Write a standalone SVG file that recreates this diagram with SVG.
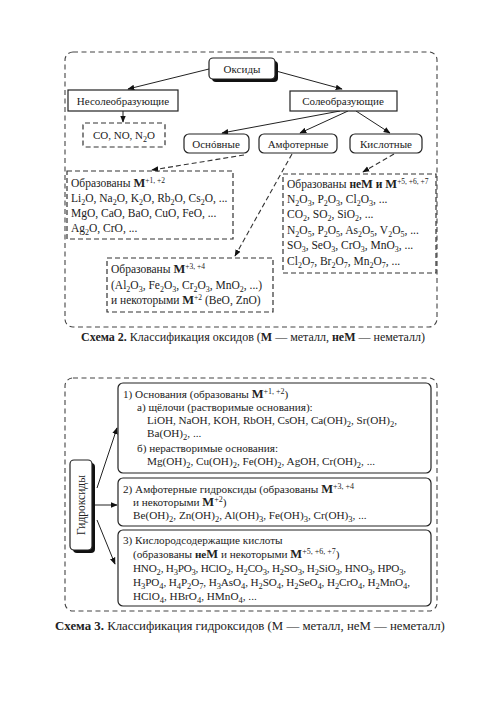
<svg xmlns="http://www.w3.org/2000/svg" width="500" height="708" viewBox="0 0 500 708">
<defs>
<style>
text{font-family:"Liberation Serif","DejaVu Serif",serif;font-size:11px;fill:#222}
.c{text-anchor:middle}
.l1{font-size:11.5px}
.l3{font-size:11.2px}
.cap{font-size:12px}
.cap3{font-size:12.8px}
.bold{font-weight:bold}
.d{font-size:8px;baseline-shift:-2.5px}
.u{font-size:7.5px;baseline-shift:4px}
.l3 .d{font-size:8.5px}
.l3 .u{font-size:8px}
.m{font-weight:bold;font-size:12.5px}
.box{fill:#fff;stroke:#222;stroke-width:1.2}
.shadow{fill:#111}
.dash{fill:none;stroke:#333;stroke-width:1.2;stroke-dasharray:5 3}
.outer{fill:none;stroke:#444;stroke-width:1.1;stroke-dasharray:5 3.5}
.ln{stroke:#222;stroke-width:1;fill:none;marker-end:url(#ah)}
.dl{stroke:#333;stroke-width:1.1;fill:none;stroke-dasharray:5 3;marker-end:url(#ah)}
</style>
<marker id="ah" viewBox="0 0 10 10" refX="9" refY="5" markerWidth="7" markerHeight="7" markerUnits="userSpaceOnUse" orient="auto">
<path d="M0,1 L10,5 L0,9 z" fill="#111"/>
</marker>
</defs>
<rect width="500" height="708" fill="#fff"/>

<!-- Scheme 2 -->
<rect class="outer" x="65" y="52" width="372" height="275" rx="8"/>

<g id="connectors1">
<line class="ln" x1="209" y1="69" x2="128" y2="89"/>
<line class="ln" x1="276" y1="71" x2="342" y2="89"/>
<line class="ln" x1="123" y1="111" x2="123" y2="122"/>
<line class="ln" x1="340" y1="111" x2="222" y2="133"/>
<line class="ln" x1="348" y1="111" x2="300" y2="133"/>
<line class="ln" x1="356" y1="111" x2="390" y2="133"/>
<line class="dl" x1="244" y1="155" x2="152" y2="170"/>
<line class="dl" x1="292" y1="154" x2="235" y2="256"/>
<line class="dl" x1="394" y1="154" x2="363" y2="172"/>
</g>

<g id="oxides">
<rect class="shadow" x="212" y="61" width="66" height="21" rx="4"/>
<rect class="box" x="209" y="58" width="66" height="21" rx="4"/>
<text class="c" x="242" y="73">Оксиды</text>
</g>
<g id="nonsalt">
<rect class="box" x="68" y="90" width="110" height="21"/>
<text class="c" x="123" y="105">Несолеобразующие</text>
</g>
<g id="salt">
<rect class="box" x="290" y="91" width="107" height="20"/>
<text class="c" x="343" y="105">Солеобразующие</text>
</g>
<g id="co">
<rect class="dash" x="83" y="123" width="82" height="24" rx="2"/>
<text class="c" x="124" y="139">CO, NO, N<tspan class="d">2</tspan>O</text>
</g>
<g id="basic">
<rect class="box" x="184" y="134" width="65" height="19" rx="5"/>
<text class="c" x="216" y="148">Оснóвные</text>
</g>
<g id="amph">
<rect class="box" x="259" y="134" width="78" height="19" rx="5"/>
<text class="c" x="298" y="148">Амфотерные</text>
</g>
<g id="acid">
<rect class="box" x="350" y="134" width="72" height="19" rx="5"/>
<text class="c" x="386" y="148">Кислотные</text>
</g>
<g id="basic-list">
<rect class="dash" x="67" y="171" width="166" height="68"/>
<text class="l1" x="71" y="187">Образованы <tspan class="m">M</tspan><tspan class="u">+1, +2</tspan></text>
<text class="l1" x="71" y="202">Li<tspan class="d">2</tspan>O, Na<tspan class="d">2</tspan>O, K<tspan class="d">2</tspan>O, Rb<tspan class="d">2</tspan>O, Cs<tspan class="d">2</tspan>O, ...</text>
<text class="l1" x="71" y="217">MgO, CaO, BaO, CuO, FeO, ...</text>
<text class="l1" x="71" y="232">Ag<tspan class="d">2</tspan>O, CrO, ...</text>
</g>
<g id="acid-list">
<rect class="dash" x="283" y="174" width="153" height="99"/>
<text class="l1" x="287" y="188">Образованы <tspan class="bold">не</tspan><tspan class="m">M</tspan><tspan class="bold"> и </tspan><tspan class="m">M</tspan><tspan class="u">+5, +6, +7</tspan></text>
<text class="l1" x="287" y="203">N<tspan class="d">2</tspan>O<tspan class="d">3</tspan>, P<tspan class="d">2</tspan>O<tspan class="d">3</tspan>, Cl<tspan class="d">2</tspan>O<tspan class="d">3</tspan>, ...</text>
<text class="l1" x="287" y="218">CO<tspan class="d">2</tspan>, SO<tspan class="d">2</tspan>, SiO<tspan class="d">2</tspan>, ...</text>
<text class="l1" x="287" y="234">N<tspan class="d">2</tspan>O<tspan class="d">5</tspan>, P<tspan class="d">2</tspan>O<tspan class="d">5</tspan>, As<tspan class="d">2</tspan>O<tspan class="d">5</tspan>, V<tspan class="d">2</tspan>O<tspan class="d">5</tspan>, ...</text>
<text class="l1" x="287" y="249">SO<tspan class="d">3</tspan>, SeO<tspan class="d">3</tspan>, CrO<tspan class="d">3</tspan>, MnO<tspan class="d">3</tspan>, ...</text>
<text class="l1" x="287" y="265">Cl<tspan class="d">2</tspan>O<tspan class="d">7</tspan>, Br<tspan class="d">2</tspan>O<tspan class="d">7</tspan>, Mn<tspan class="d">2</tspan>O<tspan class="d">7</tspan>, ...</text>
</g>
<g id="amph-list">
<rect class="dash" x="107" y="258" width="166" height="54"/>
<text class="l1" x="111" y="273">Образованы <tspan class="m">M</tspan><tspan class="u">+3, +4</tspan></text>
<text class="l1" x="111" y="289">(Al<tspan class="d">2</tspan>O<tspan class="d">3</tspan>, Fe<tspan class="d">2</tspan>O<tspan class="d">3</tspan>, Cr<tspan class="d">2</tspan>O<tspan class="d">3</tspan>, MnO<tspan class="d">2</tspan>, ...)</text>
<text class="l1" x="111" y="304">и некоторыми <tspan class="m">M</tspan><tspan class="u">+2</tspan> (BeO, ZnO)</text>
</g>
<text class="c cap" x="253" y="341"><tspan class="bold">Схема 2.</tspan> Классификация оксидов (<tspan class="bold">М</tspan> — металл, <tspan class="bold">неМ</tspan> — неметалл)</text>

<!-- Scheme 3 -->
<rect class="outer" x="65" y="378" width="372" height="233" rx="8"/>

<g id="connectors2">
<line class="ln" x1="97" y1="488" x2="117" y2="428"/>
<line class="ln" x1="94" y1="505" x2="117" y2="505"/>
<line class="ln" x1="97" y1="520" x2="115" y2="564"/>
</g>

<g id="hydroxides">
<rect class="shadow" x="73" y="463" width="22" height="90" rx="4"/>
<rect class="box" x="70" y="460" width="22" height="90" rx="4"/>
<text class="c" x="0" y="0" transform="translate(85,505) rotate(-90)" style="font-size:11.5px">Гидроксиды</text>
</g>
<g id="bases">
<rect class="box" x="118" y="383" width="313" height="90" rx="5"/>
<text class="l3" x="123" y="398">1) Основания (образованы <tspan class="m">M</tspan><tspan class="u">+1, +2</tspan>)</text>
<text class="l3" x="137" y="411">а) щёлочи (растворимые основания):</text>
<text class="l3" x="147" y="424" textLength="250" lengthAdjust="spacing">LiOH, NaOH, KOH, RbOH, CsOH, Ca(OH)<tspan class="d">2</tspan>, Sr(OH)<tspan class="d">2</tspan>,</text>
<text class="l3" x="147" y="437">Ba(OH)<tspan class="d">2</tspan>, ...</text>
<text class="l3" x="137" y="452">б) нерастворимые основания:</text>
<text class="l3" x="147" y="465">Mg(OH)<tspan class="d">2</tspan>, Cu(OH)<tspan class="d">2</tspan>, Fe(OH)<tspan class="d">2</tspan>, AgOH, Cr(OH)<tspan class="d">2</tspan>, ...</text>
</g>
<g id="amph-hydr">
<rect class="box" x="118" y="478" width="313" height="48" rx="5"/>
<text class="l3" x="123" y="493">2) Амфотерные гидроксиды (образованы <tspan class="m">M</tspan><tspan class="u">+3, +4</tspan></text>
<text class="l3" x="133" y="506">и некоторыми <tspan class="m">M</tspan><tspan class="u">+2</tspan>)</text>
<text class="l3" x="133" y="519">Be(OH)<tspan class="d">2</tspan>, Zn(OH)<tspan class="d">2</tspan>, Al(OH)<tspan class="d">3</tspan>, Fe(OH)<tspan class="d">3</tspan>, Cr(OH)<tspan class="d">3</tspan>, ...</text>
</g>
<g id="acids">
<rect class="box" x="118" y="530" width="313" height="76" rx="5"/>
<text class="l3" x="123" y="544">3) Кислородсодержащие кислоты</text>
<text class="l3" x="133" y="558">(образованы <tspan class="bold">не</tspan><tspan class="m">M</tspan> и некоторыми <tspan class="m">M</tspan><tspan class="u">+5, +6, +7</tspan>)</text>
<text class="l3" x="133" y="572" textLength="273" lengthAdjust="spacing">HNO<tspan class="d">2</tspan>, H<tspan class="d">3</tspan>PO<tspan class="d">3</tspan>, HClO<tspan class="d">2</tspan>, H<tspan class="d">2</tspan>CO<tspan class="d">3</tspan>, H<tspan class="d">2</tspan>SO<tspan class="d">3</tspan>, H<tspan class="d">2</tspan>SiO<tspan class="d">3</tspan>, HNO<tspan class="d">3</tspan>, HPO<tspan class="d">3</tspan>,</text>
<text class="l3" x="133" y="586" textLength="277" lengthAdjust="spacing">H<tspan class="d">3</tspan>PO<tspan class="d">4</tspan>, H<tspan class="d">4</tspan>P<tspan class="d">2</tspan>O<tspan class="d">7</tspan>, H<tspan class="d">3</tspan>AsO<tspan class="d">4</tspan>, H<tspan class="d">2</tspan>SO<tspan class="d">4</tspan>, H<tspan class="d">2</tspan>SeO<tspan class="d">4</tspan>, H<tspan class="d">2</tspan>CrO<tspan class="d">4</tspan>, H<tspan class="d">2</tspan>MnO<tspan class="d">4</tspan>,</text>
<text class="l3" x="133" y="600">HClO<tspan class="d">4</tspan>, HBrO<tspan class="d">4</tspan>, HMnO<tspan class="d">4</tspan>, ...</text>
</g>
<text class="c cap3" x="250" y="630"><tspan class="bold">Схема 3.</tspan> Классификация гидроксидов (М — металл, неМ — неметалл)</text>
</svg>
